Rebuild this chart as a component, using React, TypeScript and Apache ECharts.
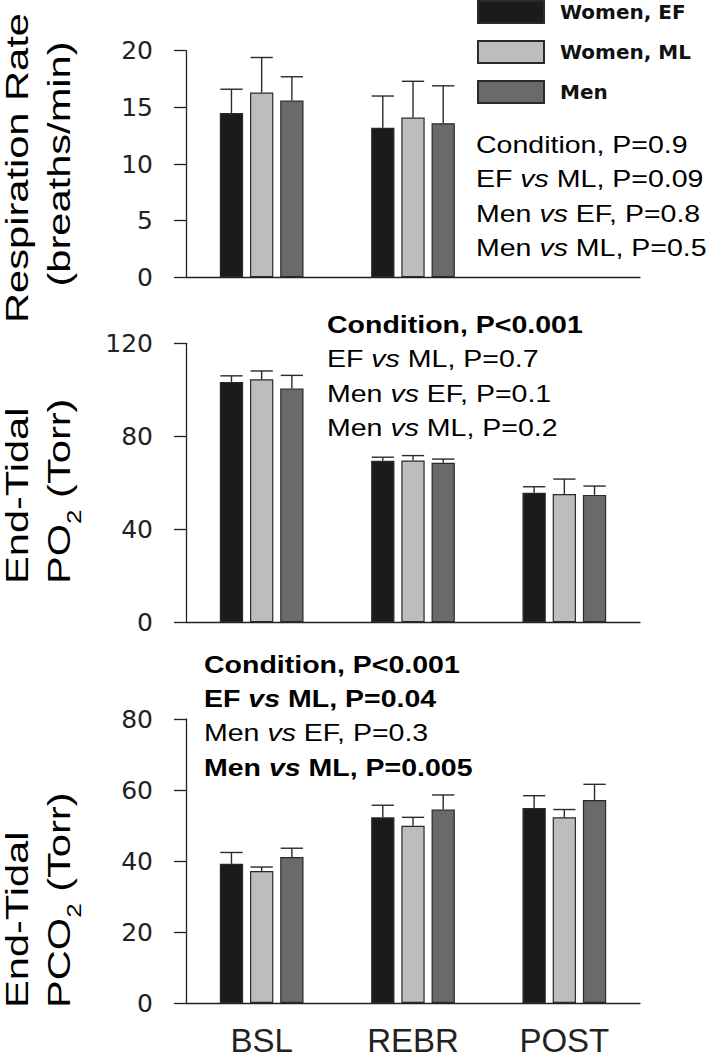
import React, { useEffect, useRef } from 'react';
import * as echarts from 'echarts';

// ---------- data ----------
const categories = ['BSL', 'REBR', 'POST'];
const groupNames = ['Women, EF', 'Women, ML', 'Men'];

// Respiration rate (breaths/min) – no POST values
const rrEF = [14.5, 13.2, null];
const rrEFsd = [2.1, 2.8, null];
const rrML = [16.3, 14.1, null];
const rrMLsd = [3.1, 3.2, null];
const rrMen = [15.6, 13.6, null];
const rrMensd = [2.1, 3.3, null];

// End-tidal PO2 (Torr)
const po2EF = [103.4, 69.5, 55.7];
const po2EFsd = [2.6, 1.5, 2.6];
const po2ML = [104.5, 69.6, 55.2];
const po2MLsd = [3.6, 2.1, 6.4];
const po2Men = [100.6, 68.6, 54.8];
const po2Mensd = [5.6, 1.6, 3.8];

// End-tidal PCO2 (Torr)
const pco2EF = [39.2, 52.3, 54.9];
const pco2EFsd = [3.2, 3.4, 3.5];
const pco2ML = [37.2, 49.9, 52.3];
const pco2MLsd = [1.1, 2.4, 2.2];
const pco2Men = [41.1, 54.5, 57.2];
const pco2Mensd = [2.5, 4.1, 4.4];

// axis ranges
const rrMax = 20, rrStep = 5;
const po2Max = 120, po2Step = 40;
const pco2Max = 80, pco2Step = 20;

// statistics text
const rrStats = [
  '{n|Condition, P=0.9}',
  '{n|EF }{i|vs}{n| ML, P=0.09}',
  '{n|Men }{i|vs}{n| EF, P=0.8}',
  '{n|Men }{i|vs}{n| ML, P=0.5}',
];
const po2Stats = [
  '{b|Condition, P<0.001}',
  '{n|EF }{i|vs}{n| ML, P=0.7}',
  '{n|Men }{i|vs}{n| EF, P=0.1}',
  '{n|Men }{i|vs}{n| ML, P=0.2}',
];
const pco2Stats = [
  '{b|Condition, P<0.001}',
  '{b|EF }{bi|vs}{b| ML, P=0.04}',
  '{n|Men }{i|vs}{n| EF, P=0.3}',
  '{b|Men }{bi|vs}{b| ML, P=0.005}',
];

// ---------- styles ----------
const FONT = 'Liberation Sans, Arial, sans-serif';
const WIDE = 'DejaVu Sans, Liberation Sans, sans-serif';
const COLORS = ['#1b1b1b', '#bdbdbd', '#6a6a6a'];
const EDGE = '#2a2a2a';
const INK = '#222222';
const BAR_W = 23.3;
const BAR_GAP = 6.9;

const panels = [
  { means: [rrEF, rrML, rrMen], sds: [rrEFsd, rrMLsd, rrMensd], max: rrMax, step: rrStep, top: 50.7, height: 226.6 },
  { means: [po2EF, po2ML, po2Men], sds: [po2EFsd, po2MLsd, po2Mensd], max: po2Max, step: po2Step, top: 343.3, height: 279 },
  { means: [pco2EF, pco2ML, pco2Men], sds: [pco2EFsd, pco2MLsd, pco2Mensd], max: pco2Max, step: pco2Step, top: 719, height: 284 },
];

const richStyles = {
  n: { fontFamily: FONT, fontSize: 23, color: INK },
  i: { fontFamily: FONT, fontSize: 23, color: INK, fontStyle: 'italic' },
  b: { fontFamily: FONT, fontSize: 23, color: '#111', fontWeight: 'bold' },
  bi: { fontFamily: FONT, fontSize: 23, color: '#111', fontWeight: 'bold', fontStyle: 'italic' },
};

function statBlock(x: number, y0: number, dy: number, lines: string[]) {
  return lines.map((t, k) => ({
    type: 'text',
    x,
    y: y0 + k * dy,
    scaleX: 1.24,
    style: { text: t, rich: richStyles, align: 'left', verticalAlign: 'middle' },
  }));
}

const titleRich = {
  a: { fontFamily: FONT, fontSize: 32, color: INK, lineHeight: 32 },
  t: { fontFamily: FONT, fontSize: 32, color: INK, lineHeight: 50 },
  s: { fontFamily: FONT, fontSize: 20, color: INK, lineHeight: 20, verticalAlign: 'bottom' },
};

function title(x: number, y: number, text: string, align: string) {
  return {
    type: 'text',
    x,
    y,
    rotation: Math.PI / 2,
    scaleX: 1.3,
    style: { text, rich: titleRich, align, verticalAlign: 'middle' },
  };
}

export default function App() {
  const ref = useRef<HTMLDivElement>(null);
  useEffect(() => {
    if (!ref.current) return;
    const chart = echarts.init(ref.current, null, { renderer: 'svg' });

    const series: any[] = [];
    panels.forEach((p, pi) => {
      p.means.forEach((m, g) => {
        series.push({
          type: 'bar',
          name: groupNames[g],
          xAxisIndex: pi,
          yAxisIndex: pi,
          data: m,
          barWidth: BAR_W,
          barGap: `${(BAR_GAP / BAR_W) * 100}%`,
          itemStyle: { color: COLORS[g], borderColor: EDGE, borderWidth: 1.2 },
        });
      });
      p.means.forEach((m, g) => {
        const errData: number[][] = [];
        m.forEach((v, ci) => {
          const sd = p.sds[g][ci];
          if (v != null && sd != null) errData.push([ci, v, sd]);
        });
        const offset = (g - 1) * (BAR_W + BAR_GAP);
        series.push({
          type: 'custom',
          name: `err-${pi}-${g}`,
          xAxisIndex: pi,
          yAxisIndex: pi,
          data: errData,
          z: 3,
          renderItem: (params: any, api: any) => {
            const ci = api.value(0);
            const mean = api.value(1);
            const sd = api.value(2);
            const base = api.coord([ci, mean]);
            const top = api.coord([ci, mean + sd]);
            const x = base[0] + offset;
            const st = { stroke: EDGE, lineWidth: 1.4 };
            const cw = BAR_W - 1;
            return {
              type: 'group',
              children: [
                { type: 'line', shape: { x1: x, y1: base[1], x2: x, y2: top[1] }, style: st },
                { type: 'line', shape: { x1: x - cw / 2, y1: top[1], x2: x + cw / 2, y2: top[1] }, style: st },
              ],
            };
          },
        });
      });
    });

    const option: any = {
      animation: false,
      backgroundColor: '#ffffff',
      textStyle: { fontFamily: FONT },
      legend: {
        data: groupNames,
        orient: 'vertical',
        left: 477,
        top: 0,
        padding: 0,
        itemWidth: 66,
        itemHeight: 22,
        itemGap: 16,
        icon: 'rect',
        selectedMode: false,
        formatter: '{t|{name}}',
        textStyle: {
          fontFamily: WIDE,
          fontWeight: 'bold',
          fontSize: 20,
          color: '#111',
          rich: {
            t: { fontFamily: WIDE, fontWeight: 'bold', fontSize: 20, color: '#111', padding: [0, 0, 0, 11] },
          },
        },
      },
      grid: panels.map((p) => ({ left: 186, right: 80, top: p.top, height: p.height, containLabel: false })),
      xAxis: panels.map((p, pi) => ({
        type: 'category',
        gridIndex: pi,
        data: categories,
        axisLine: { show: true, lineStyle: { color: INK, width: 1.3 } },
        axisTick: { show: false },
        axisLabel: { show: pi === 2, fontFamily: FONT, fontSize: 33, color: INK, margin: 21 },
        splitLine: { show: false },
      })),
      yAxis: panels.map((p, pi) => ({
        type: 'value',
        gridIndex: pi,
        min: 0,
        max: p.max,
        interval: p.step,
        axisLine: { show: true, lineStyle: { color: INK, width: 1.3 } },
        axisTick: { show: true, inside: false, length: 12, lineStyle: { color: INK, width: 1.3 } },
        axisLabel: { fontFamily: WIDE, fontSize: 25, color: INK, margin: 33 },
        splitLine: { show: false },
      })),
      series,
      graphic: [
        ...statBlock(476, 145, 34.3, rrStats),
        ...statBlock(327, 325, 34.3, po2Stats),
        ...statBlock(204, 665, 34.2, pco2Stats),
        title(17, 168, '{a|Respiration Rate}', 'center'),
        title(59, 164, '{a|(breaths/min)}', 'center'),
        title(17, 584, '{a|End-Tidal}', 'left'),
        title(59, 584, '{t|PO}{s|2}{t| (Torr)}', 'left'),
        title(17, 1008, '{a|End-Tidal}', 'left'),
        title(59, 1008, '{t|PCO}{s|2}{t| (Torr)}', 'left'),
      ],
    };

    chart.setOption(option);
    return () => chart.dispose();
  }, []);

  return (
    <div
      ref={ref}
      style={{ position: 'absolute', left: 0, top: 0, width: 720, height: 1061, background: '#fff' }}
    />
  );
}
